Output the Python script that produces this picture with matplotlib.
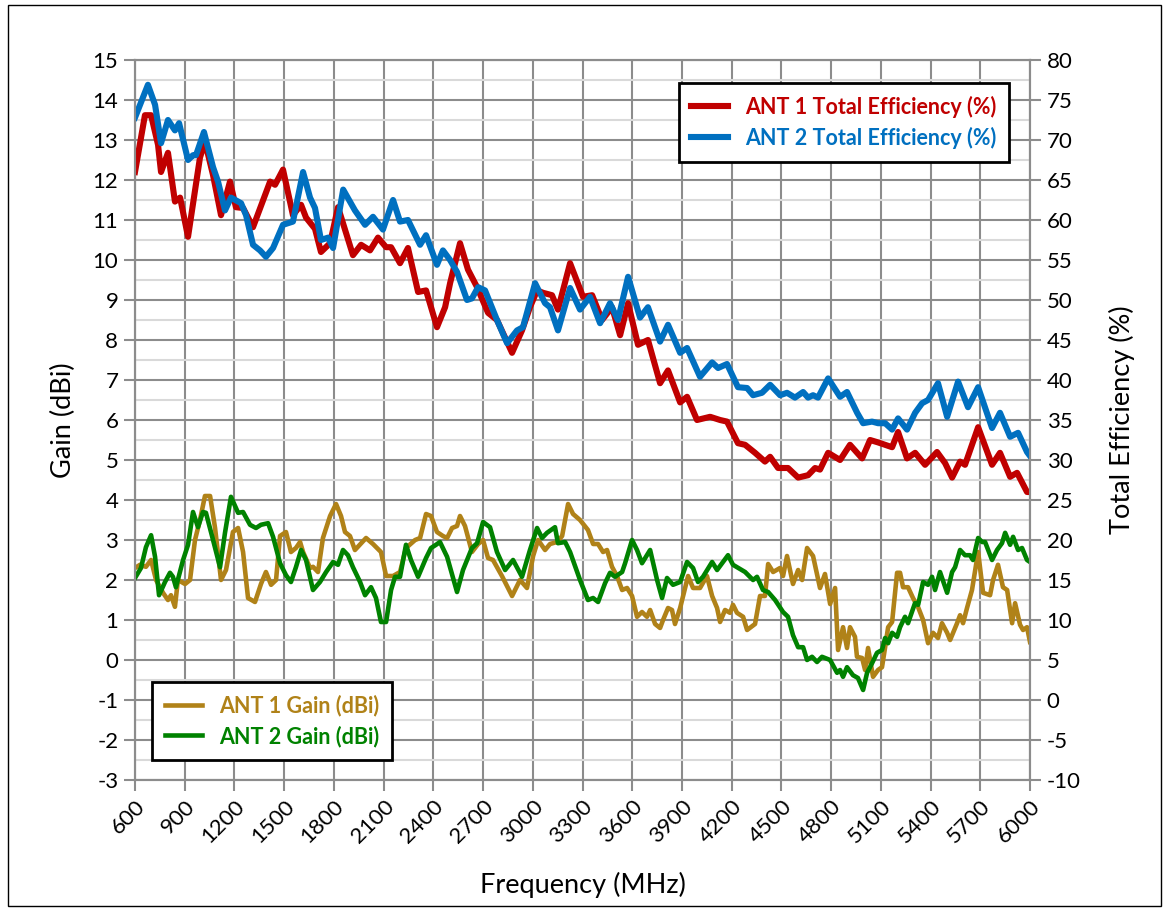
import numpy as np
import matplotlib.pyplot as plt
from matplotlib.patches import Rectangle

plt.rcParams['font.family'] = ['Lato', 'DejaVu Sans']
plt.rcParams['axes.unicode_minus'] = False

# ANT 1 total efficiency (%)
ant1_eff_freq = [600, 660, 697, 739, 757, 799, 841, 872, 920, 992, 1022, 1071, 1119, 1173, 1209,
                 1252, 1312, 1415, 1445, 1493, 1553, 1602, 1632, 1686, 1722, 1777, 1825, 1915, 1964,
                 2018, 2066, 2115, 2145, 2199, 2247, 2308, 2356, 2422, 2471, 2501, 2561, 2609, 2664,
                 2730, 2784, 2875, 2935, 2983, 3026, 3062, 3116, 3152, 3225, 3303, 3358, 3418, 3478,
                 3527, 3575, 3635, 3695, 3768, 3816, 3889, 3931, 3991, 4070, 4130, 4172, 4238, 4281,
                 4341, 4401, 4432, 4480, 4540, 4601, 4661, 4703, 4733, 4782, 4854, 4914, 4987, 5035,
                 5083, 5168, 5204, 5258, 5307, 5367, 5439, 5488, 5530, 5578, 5608, 5687, 5771, 5819,
                 5880, 5922, 5982, 6000]
ant1_eff = [66.0, 73.1, 73.1, 69.4, 66.0, 68.4, 62.3, 62.8, 57.9, 67.8, 69.8, 65.6, 60.6, 64.8, 61.6,
            61.5, 59.1, 64.8, 64.4, 66.3, 60.6, 61.9, 60.3, 58.9, 56.0, 57.1, 61.6, 55.6, 56.9,
            56.2, 57.8, 56.6, 56.6, 54.6, 56.5, 51.0, 51.2, 46.6, 49.1, 52.1, 57.1, 53.8, 51.6,
            48.4, 47.5, 43.4, 46.2, 49.1, 51.2, 50.9, 50.6, 48.8, 54.6, 50.4, 50.6, 47.5, 49.1,
            45.6, 49.6, 44.4, 45.0, 39.6, 41.2, 37.2, 37.9, 35.0, 35.4, 35.0, 34.8, 32.1, 31.9,
            30.9, 29.8, 30.4, 29.0, 29.0, 27.8, 28.1, 29.0, 28.8, 30.9, 30.0, 31.9, 30.2, 32.5,
            32.2, 31.6, 33.5, 30.2, 30.9, 29.4, 31.0, 29.6, 27.8, 29.8, 29.4, 34.1, 29.4, 30.9,
            27.9, 28.4, 26.0, 26.0]

# ANT 2 total efficiency (%)
ant2_eff_freq = [600, 678, 721, 757, 799, 841, 866, 920, 950, 968, 1016, 1071, 1101, 1143, 1179,
                 1240, 1270, 1312, 1354, 1390, 1433, 1493, 1553, 1614, 1656, 1686, 1722, 1765, 1795,
                 1856, 1927, 1988, 2036, 2096, 2157, 2199, 2247, 2320, 2356, 2422, 2458, 2501, 2543,
                 2603, 2633, 2670, 2712, 2784, 2845, 2905, 2941, 3014, 3074, 3104, 3152, 3225, 3285,
                 3345, 3406, 3466, 3514, 3575, 3647, 3695, 3768, 3816, 3889, 3931, 4009, 4082, 4118,
                 4172, 4238, 4293, 4329, 4383, 4432, 4492, 4534, 4582, 4631, 4661, 4691, 4721, 4782,
                 4854, 4896, 4957, 4993, 5047, 5083, 5126, 5168, 5204, 5258, 5307, 5349, 5385, 5445,
                 5500, 5566, 5626, 5687, 5771, 5819, 5880, 5928, 5982, 6000]
ant2_eff = [72.8, 76.9, 74.4, 69.6, 72.5, 71.2, 72.1, 67.5, 68.1, 68.1, 71.0, 66.6, 64.8, 61.2, 62.8,
            62.1, 60.6, 56.9, 56.2, 55.4, 56.5, 59.4, 59.8, 66.0, 62.8, 61.5, 57.5, 57.8, 56.5,
            63.8, 61.2, 59.4, 60.4, 58.8, 62.5, 59.8, 60.0, 56.9, 58.1, 54.4, 56.2, 55.0, 53.5,
            50.0, 50.2, 51.6, 51.2, 47.5, 44.6, 46.2, 46.6, 52.1, 49.6, 49.1, 46.2, 51.5, 48.8,
            50.4, 47.1, 49.6, 47.5, 52.9, 47.8, 49.1, 44.8, 46.9, 43.4, 44.0, 40.4, 42.2, 41.5,
            42.0, 39.1, 39.0, 38.1, 38.4, 39.4, 38.1, 38.4, 37.8, 38.5, 37.8, 38.1, 37.8, 40.2,
            37.9, 38.5, 35.9, 34.6, 34.8, 34.6, 34.6, 33.8, 35.2, 33.8, 35.9, 37.1, 37.5, 39.6,
            35.4, 39.8, 36.6, 39.1, 34.0, 35.9, 32.9, 33.4, 31.0, 30.5]

# ANT 1 gain (dBi)
ant1_gain_freq = [600, 630, 666, 697, 727, 769, 799, 817, 841, 859, 902, 932, 962, 992, 1022, 1053,
                  1083, 1119, 1149, 1191, 1222, 1252, 1282, 1324, 1360, 1390, 1421, 1451, 1475, 1511,
                  1541, 1571, 1596, 1614, 1656, 1674, 1704, 1734, 1777, 1813, 1843, 1867, 1897, 1927,
                  1994, 2036, 2084, 2115, 2157, 2199, 2235, 2290, 2320, 2356, 2386, 2422, 2458, 2483,
                  2513, 2543, 2561, 2591, 2633, 2670, 2700, 2730, 2760, 2814, 2875, 2923, 2965, 3002,
                  3032, 3074, 3104, 3146, 3177, 3213, 3243, 3285, 3333, 3364, 3394, 3424, 3448, 3478,
                  3508, 3539, 3569, 3599, 3629, 3659, 3689, 3708, 3738, 3768, 3786, 3816, 3840, 3858,
                  3889, 3919, 3937, 3967, 4009, 4051, 4082, 4112, 4130, 4160, 4190, 4208, 4232, 4269,
                  4293, 4341, 4371, 4401, 4420, 4450, 4492, 4510, 4534, 4570, 4601, 4625, 4655, 4691,
                  4733, 4763, 4794, 4824, 4842, 4872, 4896, 4914, 4944, 4956, 4987, 5005, 5023, 5053,
                  5083, 5107, 5126, 5144, 5168, 5198, 5216, 5234, 5264, 5294, 5325, 5355, 5385, 5415,
                  5445, 5469, 5500, 5518, 5560, 5578, 5596, 5620, 5650, 5687, 5717, 5759, 5777, 5807,
                  5837, 5862, 5892, 5910, 5940, 5958, 5982, 6000]
ant1_gain = [2.3, 2.38, 2.33, 2.5, 2.0, 1.68, 1.5, 1.62, 1.33, 2.0, 1.9, 2.0, 3.0, 3.5, 4.1, 4.1,
             3.3, 2.0, 2.25, 3.2, 3.3, 2.7, 1.55, 1.45, 1.9, 2.2, 1.88, 2.0, 3.1, 3.2,
             2.7, 2.8, 2.95, 2.7, 2.3, 2.33, 2.2, 3.05, 3.6, 3.9, 3.6, 3.2, 3.1, 2.75,
             3.05, 2.9, 2.7, 2.1, 2.1, 2.2, 2.8, 3.0, 3.05, 3.65, 3.6, 3.2, 3.1, 3.05,
             3.3, 3.35, 3.6, 3.35, 2.7, 2.9, 3.0, 2.55, 2.5, 2.1, 1.6, 2.0, 1.8, 2.6,
             3.0, 2.75, 2.9, 2.95, 3.1, 3.9, 3.65, 3.5, 3.25, 2.9, 2.9, 2.7, 2.75, 2.33,
             2.1, 1.75, 1.8, 1.6, 1.08, 1.2, 1.08, 1.25, 0.9, 0.8, 1.0, 1.3, 1.25, 0.9,
             1.3, 1.8, 2.1, 1.8, 1.8, 2.1, 1.6, 1.3, 0.95, 1.25, 1.18, 1.38, 1.18, 1.08,
             0.75, 0.9, 1.6, 1.6, 2.4, 2.2, 2.3, 2.1, 2.6, 1.9, 2.25, 2.0, 2.8, 2.6,
             1.8, 2.15, 1.4, 1.8, 0.25, 0.82, 0.3, 0.82, 0.58, 0.08, 0.05, -0.25, 0.3, -0.42,
             -0.25, -0.18, 0.32, 0.82, 0.95, 2.18, 2.18, 1.82, 1.82, 1.55, 1.32, 1.0, 0.42, 0.68,
             0.55, 0.92, 0.68, 0.5, 0.92, 1.12, 0.92, 1.3, 1.75, 2.7, 1.68, 1.62, 2.0, 2.38,
             1.82, 1.75, 0.92, 1.42, 0.88, 0.75, 0.82, 0.45]

# ANT 2 gain (dBi)
ant2_gain_freq = [600, 636, 666, 697, 721, 745, 781, 811, 829, 847, 890, 920, 950, 980, 1010, 1028,
                  1071, 1113, 1143, 1179, 1222, 1252, 1294, 1330, 1360, 1403, 1433, 1475, 1511, 1541,
                  1571, 1602, 1632, 1674, 1716, 1753, 1795, 1825, 1855, 1885, 1915, 1958, 1988, 2024,
                  2054, 2084, 2115, 2145, 2169, 2199, 2235, 2265, 2308, 2356, 2386, 2416, 2440, 2483,
                  2543, 2579, 2633, 2664, 2700, 2742, 2784, 2833, 2881, 2935, 2983, 3026, 3056, 3086,
                  3134, 3152, 3195, 3225, 3285, 3333, 3364, 3394, 3436, 3466, 3496, 3539, 3557, 3599,
                  3629, 3659, 3708, 3750, 3780, 3810, 3846, 3889, 3931, 3967, 3997, 4027, 4082, 4112,
                  4142, 4178, 4208, 4281, 4329, 4353, 4389, 4420, 4462, 4510, 4540, 4570, 4601, 4631,
                  4655, 4685, 4715, 4745, 4794, 4836, 4854, 4872, 4896, 4932, 4962, 4993, 5017, 5047,
                  5077, 5107, 5126, 5144, 5168, 5198, 5216, 5246, 5264, 5306, 5325, 5355, 5385, 5409,
                  5427, 5457, 5500, 5530, 5548, 5578, 5608, 5638, 5656, 5687, 5711, 5729, 5771, 5801,
                  5831, 5850, 5880, 5898, 5928, 5952, 5982, 6000]
ant2_gain = [2.05, 2.3, 2.82, 3.12, 2.58, 1.62, 1.95, 2.18, 2.08, 1.82, 2.5, 2.88, 3.7, 3.32, 3.7, 3.68,
             3.0, 2.32, 3.18, 4.08, 3.68, 3.7, 3.38, 3.3, 3.38, 3.42, 3.08, 2.42, 2.12, 1.95,
             2.32, 2.75, 2.5, 1.75, 1.95, 2.2, 2.45, 2.38, 2.75, 2.62, 2.32, 1.95, 1.62, 1.82,
             1.55, 0.95, 0.95, 1.75, 2.08, 2.08, 2.88, 2.5, 2.08, 2.55, 2.8, 2.88, 2.95, 2.58,
             1.7, 2.25, 2.8, 2.92, 3.45, 3.32, 2.7, 2.25, 2.5, 2.08, 2.75, 3.3, 3.05, 3.18,
             3.32, 2.92, 2.95, 2.7, 2.0, 1.5, 1.55, 1.45, 1.92, 2.18, 2.08, 2.2, 2.42, 3.0,
             2.75, 2.42, 2.75, 2.0, 1.55, 2.05, 1.88, 1.95, 2.45, 2.3, 1.95, 2.08, 2.45, 2.25,
             2.42, 2.62, 2.38, 2.2, 2.0, 2.08, 1.75, 1.7, 1.5, 1.2, 1.08, 0.62, 0.32, 0.32,
             0.0, 0.08, -0.05, 0.08, 0.0, -0.32, -0.25, -0.42, -0.18, -0.38, -0.45, -0.75, -0.32, -0.08,
             0.18, 0.25, 0.55, 0.42, 0.68, 0.58, 0.82, 1.08, 0.92, 1.42, 1.38, 1.95, 1.88, 2.08,
             1.75, 2.2, 1.68, 2.2, 2.32, 2.75, 2.62, 2.62, 2.5, 3.05, 2.95, 2.95, 2.5, 2.75,
             2.92, 3.18, 2.88, 3.08, 2.75, 2.8, 2.5, 2.45]

x_ticks = np.arange(600, 6001, 300)

fig = plt.figure(figsize=(11.64, 9.11), dpi=100)
ax = fig.add_axes([135 / 1164, 1 - 780 / 911, 895 / 1164, 720 / 911])
ax2 = ax.twinx()

ax.set_xlim(600, 6000)
ax.set_ylim(-3, 15)
ax2.set_ylim(-10, 80)
ax.set_xticks(x_ticks)
ax.set_yticks(np.arange(-3, 16, 1))
ax.set_yticks(np.arange(-2.5, 15, 1), minor=True)
ax2.set_yticks(np.arange(-10, 81, 5))

ax.grid(which='major', color='#8c8c8c', linewidth=1.5)
ax.grid(which='minor', axis='y', color='#d9d9d9', linewidth=1.5)
ax.set_axisbelow(True)
ax.tick_params(which='minor', length=0)

for a in (ax, ax2):
    for s in a.spines.values():
        s.set_color('#8c8c8c')
        s.set_linewidth(1.5)
    a.tick_params(which='major', length=8, width=1.5, color='#8c8c8c', labelsize=16, pad=4)

ax.set_xticklabels([str(v) for v in x_ticks], rotation=45, ha='right', rotation_mode='anchor')

# gain lines (left axis)
g1, = ax.plot(ant1_gain_freq, ant1_gain, color='#B08218', lw=3.3, solid_joinstyle='round', label='ANT 1 Gain (dBi)')
g2, = ax.plot(ant2_gain_freq, ant2_gain, color='#008200', lw=3.3, solid_joinstyle='round', label='ANT 2 Gain (dBi)')

# efficiency lines (right axis)
e1, = ax2.plot(ant1_eff_freq, ant1_eff, color='#C00000', lw=4.4, solid_joinstyle='round', label='ANT 1 Total Efficiency (%)')
e2, = ax2.plot(ant2_eff_freq, ant2_eff, color='#0070C0', lw=4.4, solid_joinstyle='round', label='ANT 2 Total Efficiency (%)')

leg1 = ax2.legend(handles=[e1, e2], loc='upper right', bbox_to_anchor=(0.977, 0.968),
                  borderaxespad=0, fancybox=False, framealpha=1, edgecolor='black',
                  labelcolor='linecolor', prop={'size': 15.5, 'weight': 'bold'},
                  handlelength=1.7, borderpad=0.6, labelspacing=0.4)
leg1.get_frame().set_linewidth(2)
ax2.add_artist(leg1)
leg2 = ax2.legend(handles=[g1, g2], loc='lower left', bbox_to_anchor=(0.019, 0.028),
                  borderaxespad=0, fancybox=False, framealpha=1, edgecolor='black',
                  labelcolor='linecolor', prop={'size': 15.5, 'weight': 'bold'},
                  handlelength=1.7, borderpad=0.6, labelspacing=0.4)
leg2.get_frame().set_linewidth(2)

ax.set_xlabel('Frequency (MHz)', fontsize=19.5, labelpad=18)
ax.set_ylabel('Gain (dBi)', fontsize=19.5, labelpad=12)
ax2.set_ylabel('Total Efficiency (%)', fontsize=19.5, labelpad=20)

fig.patches.append(Rectangle((0.007, 0.006), 0.99, 0.988, transform=fig.transFigure,
                             fill=False, edgecolor='black', linewidth=1))

plt.savefig('out.png', dpi=100)
